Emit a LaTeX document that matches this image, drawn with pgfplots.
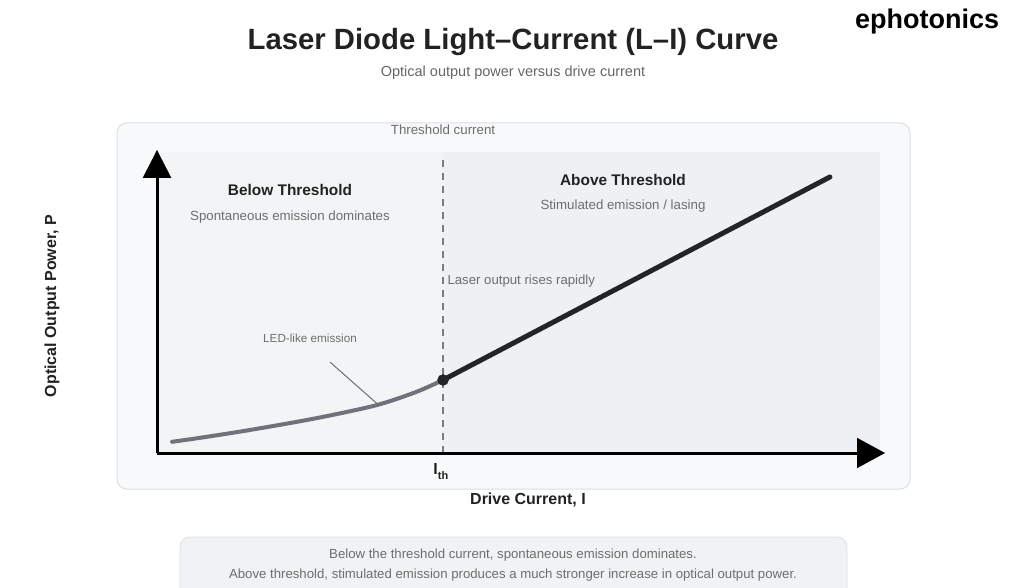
\documentclass[border=0pt]{standalone}
\usepackage{pgfplots}
\pgfplotsset{compat=1.18}
\usepackage{fontspec}
\setmainfont{Liberation Sans}
\definecolor{titlec}{HTML}{222222}
\definecolor{subc}{HTML}{666666}
\definecolor{graytxt}{HTML}{6E6E6E}
\definecolor{outerfill}{HTML}{F8F9FA}
\definecolor{outerdraw}{HTML}{DCDFE2}
\definecolor{leftfill}{HTML}{F2F4F5}
\definecolor{rightfill}{HTML}{EDF1F4}
\definecolor{spontc}{HTML}{6F727A}
\definecolor{lasec}{HTML}{222427}
\definecolor{dashc}{HTML}{7A7C7E}
\definecolor{notefill}{HTML}{F0F2F4}
\newcommand{\fs}[1]{\fontsize{#1}{#1}\selectfont}
\begin{document}
\begin{tikzpicture}
\useasboundingbox (0pt,0pt) rectangle (1024pt,-588pt);
% titles
\node[font=\fs{29.3}\bfseries, text=titlec, anchor=base] at (513pt,-50pt) {Laser Diode Light–Current (L–I) Curve};
\node[font=\fs{14.5}, text=subc, anchor=base] at (513pt,-77pt) {Optical output power versus drive current};
\node[font=\fs{27}\bfseries, text=black, anchor=base west, inner sep=0pt] at (855pt,-29pt) {ephotonics};
% panel
\filldraw[fill=outerfill, draw=outerdraw, line width=1pt, rounded corners=10pt] (117pt,-123pt) rectangle (910pt,-489pt);
\fill[leftfill] (157pt,-152pt) rectangle (443pt,-453pt);
\fill[rightfill] (443pt,-152pt) rectangle (880pt,-453pt);
% note box
\filldraw[fill=notefill, draw=outerdraw, line width=0.8pt, rounded corners=10pt] (180pt,-537pt) rectangle (847pt,-600pt);
\node[font=\fs{13.2}, text=graytxt] at (513pt,-555pt) {Below the threshold current, spontaneous emission dominates.};
\node[font=\fs{13.2}, text=graytxt] at (513pt,-575pt) {Above threshold, stimulated emission produces a much stronger increase in optical output power.};
% labels
\node[font=\fs{16}\bfseries, text=titlec] at (528pt,-500pt) {Drive Current, I};
\node[font=\fs{16}\bfseries, text=titlec, rotate=90] at (52pt,-306pt) {Optical Output Power, P};
\node[font=\fs{13.3}, text=graytxt] at (443pt,-130pt) {Threshold current};
\node[font=\fs{15.4}\bfseries, text=titlec] at (290pt,-190pt) {Below Threshold};
\node[font=\fs{13.3}, text=graytxt] at (290pt,-217pt) {Spontaneous emission dominates};
\node[font=\fs{15.4}\bfseries, text=titlec] at (623pt,-180pt) {Above Threshold};
\node[font=\fs{13.3}, text=graytxt] at (623pt,-206pt) {Stimulated emission / lasing};
\begin{axis}[
  at={(157pt,-453pt)}, anchor=south west,
  scale only axis, width=728pt, height=303pt,
  xmin=0, xmax=10.18, ymin=0, ymax=10,
  axis lines=none, clip=false,
]
% threshold dashed line
\draw[dashc, line width=2pt, dash pattern=on 7pt off 6pt] (axis cs:4,0) -- (axis cs:4,9.67);
% axes with arrows
\draw[black, line width=3pt] (axis cs:0,0) -- (axis cs:9.8,0);
\fill[black] (axis cs:9.79,0.5) -- (axis cs:10.18,0) -- (axis cs:9.79,-0.5) -- cycle;
\draw[black, line width=3pt] (axis cs:0,0) -- (axis cs:0,9.1);
\fill[black] (axis cs:-0.2,9.08) -- (axis cs:0,10) -- (axis cs:0.2,9.08) -- cycle;
% spontaneous emission
\addplot[spontc, line width=4pt, line cap=round, smooth, tension=0.5] coordinates {
 (0.21,0.37) (0.60,0.50) (1.30,0.76) (2.23,1.15) (3.07,1.58) (3.63,2.02) (4.0,2.41)
};
% lasing
\addplot[lasec, line width=5pt, line cap=round] coordinates {(4.0,2.41) (9.41,9.11)};
\addplot[only marks, mark=*, mark size=5.5pt, lasec] coordinates {(4.0,2.41)};
% annotations
\draw[graytxt, line width=1pt] (axis cs:2.42,3.00) -- (axis cs:3.10,1.58);
\node[font=\fs{11.7}, text=graytxt] at (axis cs:2.14,3.80) {LED-like emission};
\node[font=\fs{13.2}, text=graytxt, anchor=west, inner sep=0pt] at (axis cs:4.06,5.68) {Laser output rises rapidly};
\node[font=\fs{16}\bfseries, text=titlec] at (axis cs:3.97,-0.6) {I\raisebox{-0.6ex}{\fs{11}th}};
\end{axis}
\end{tikzpicture}
\end{document}
